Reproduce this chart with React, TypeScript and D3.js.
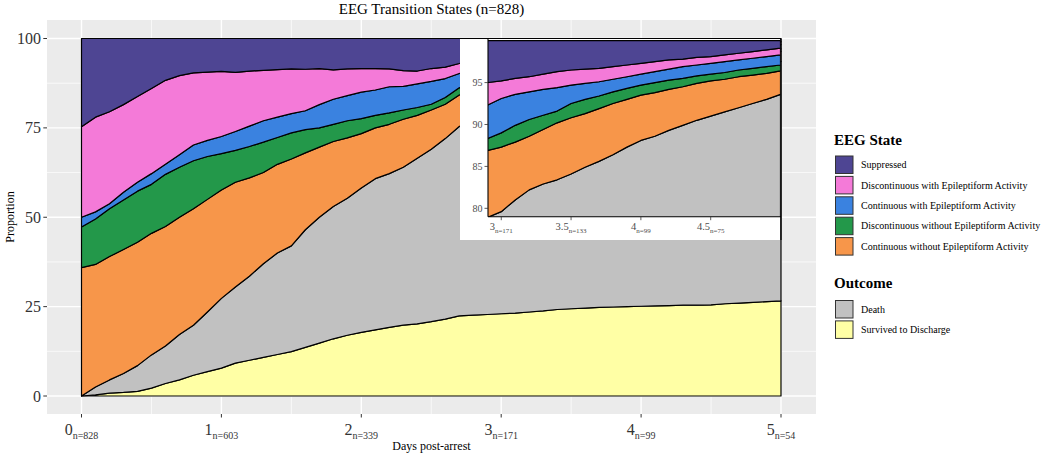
import React from "react";
import * as d3 from "d3";

// ---- data (percent of patients in each state) ----
const days = [0, 0.1, 0.2, 0.3, 0.4, 0.5, 0.6, 0.7, 0.8, 0.9, 1.0, 1.1, 1.2, 1.3, 1.4, 1.5, 1.6, 1.7, 1.8, 1.9, 2.0, 2.1, 2.2, 2.3, 2.4, 2.5, 2.6, 2.7, 2.8, 2.9, 3.0, 3.1, 3.2, 3.3, 3.4, 3.5, 3.6, 3.7, 3.8, 3.9, 4.0, 4.1, 4.2, 4.3, 4.4, 4.5, 4.6, 4.7, 4.8, 4.9, 5.0];

const survived = [0, 0.3, 0.8, 1.0, 1.3, 2.2, 3.5, 4.5, 5.8, 6.8, 7.8, 9.2, 10.0, 10.8, 11.6, 12.4, 13.6, 14.8, 16.0, 17.0, 17.8, 18.5, 19.2, 19.8, 20.2, 20.8, 21.5, 22.4, 22.6, 22.8, 23.0, 23.2, 23.5, 23.8, 24.2, 24.4, 24.6, 24.8, 24.9, 25.0, 25.1, 25.2, 25.3, 25.4, 25.4, 25.5, 25.8, 26.0, 26.2, 26.4, 26.6];
const death = [0, 2.2, 3.7, 5.3, 7.2, 9.3, 10.5, 12.7, 14.0, 16.7, 19.5, 21.3, 23.5, 26.2, 28.4, 29.6, 32.9, 35.2, 37.0, 38.3, 40.4, 42.3, 43.0, 44.2, 46.3, 48.2, 50.5, 53.0, 54.9, 56.1, 56.6, 57.8, 58.7, 59.1, 59.2, 59.7, 60.3, 60.8, 61.5, 62.3, 63.0, 63.4, 64.0, 64.5, 65.1, 65.5, 65.7, 66.0, 66.3, 66.6, 67.0];
const contNoEpi = [35.9, 34.3, 34.5, 34.7, 34.5, 34.0, 33.4, 32.8, 32.6, 31.5, 30.3, 29.3, 27.5, 25.5, 24.8, 24.3, 21.5, 19.6, 18.2, 16.9, 15.2, 14.2, 13.8, 13.4, 12.0, 11.0, 9.6, 8.8, 8.1, 8.0, 7.7, 6.9, 6.4, 6.5, 6.8, 6.7, 6.4, 6.3, 6.1, 5.7, 5.4, 5.2, 4.9, 4.6, 4.4, 4.2, 3.9, 3.7, 3.4, 3.1, 2.8];
const discNoEpi = [11.4, 12.7, 13.4, 13.8, 14.3, 13.7, 14.6, 14.0, 13.4, 12.0, 10.2, 8.9, 8.8, 8.5, 7.5, 7.3, 6.5, 5.4, 4.8, 4.8, 4.2, 3.5, 3.2, 2.6, 2.2, 1.6, 1.9, 2.0, 1.9, 1.4, 1.7, 2.0, 2.0, 1.7, 1.4, 1.7, 1.7, 1.5, 1.4, 1.3, 1.2, 1.2, 1.1, 1.0, 0.9, 0.8, 0.8, 0.8, 0.8, 0.8, 0.7];
const contEpi = [2.7, 2.0, 1.4, 2.2, 2.5, 3.0, 2.8, 3.5, 4.4, 4.5, 4.8, 5.3, 5.7, 6.0, 5.7, 5.4, 5.3, 6.5, 7.0, 7.0, 7.4, 7.1, 7.3, 6.6, 6.6, 6.4, 5.3, 4.0, 4.0, 4.0, 4.1, 3.7, 3.3, 3.1, 2.8, 2.2, 1.9, 1.7, 1.5, 1.4, 1.3, 1.3, 1.3, 1.4, 1.3, 1.3, 1.3, 1.2, 1.2, 1.2, 1.2];
const discEpi = [25.3, 26.5, 25.7, 24.5, 24.0, 23.8, 23.5, 22.1, 20.2, 19.1, 18.2, 16.5, 15.4, 14.1, 13.3, 12.5, 11.6, 10.1, 8.2, 7.5, 6.6, 6.0, 5.0, 4.4, 3.6, 3.6, 3.2, 2.8, 2.7, 2.7, 2.1, 1.9, 1.8, 1.8, 1.9, 1.8, 1.7, 1.6, 1.5, 1.4, 1.3, 1.2, 1.1, 0.9, 0.9, 0.8, 0.8, 0.8, 0.8, 0.8, 0.8];
const suppressed = [24.7, 22.0, 20.5, 18.5, 16.2, 14.0, 11.7, 10.4, 9.6, 9.4, 9.2, 9.5, 9.1, 8.9, 8.7, 8.5, 8.6, 8.4, 8.8, 8.5, 8.4, 8.4, 8.5, 9.0, 9.1, 8.4, 8.0, 7.0, 5.8, 5.0, 4.8, 4.5, 4.3, 4.0, 3.7, 3.5, 3.4, 3.3, 3.1, 2.9, 2.7, 2.5, 2.3, 2.2, 2.0, 1.9, 1.7, 1.5, 1.3, 1.1, 0.9];

const xTicks = [0, 1, 2, 3, 4, 5];
const xTickN = ["828", "603", "339", "171", "99", "54"];
const xMinor = [0.5, 1.5, 2.5, 3.5, 4.5];
const yTicks = [0, 25, 50, 75, 100];
const yMinor = [12.5, 37.5, 62.5, 87.5];
const insetXTicks = [3, 3.5, 4, 4.5];
const insetXTickN = ["171", "133", "99", "75"];
const insetYTicks = [80, 85, 90, 95];

const seriesKeys = ["survived", "death", "contNoEpi", "discNoEpi", "contEpi", "discEpi", "suppressed"];
const seriesColors: Record<string, string> = {
  suppressed: "#4E4593",
  discEpi: "#F47AD8",
  contEpi: "#3A82E0",
  discNoEpi: "#23984A",
  contNoEpi: "#F7964A",
  death: "#C1C1C1",
  survived: "#FFFFA5",
};
const eegLegend = [
  { key: "suppressed", label: "Suppressed" },
  { key: "discEpi", label: "Discontinuous with Epileptiform Activity" },
  { key: "contEpi", label: "Continuous with Epileptiform Activity" },
  { key: "discNoEpi", label: "Discontinuous without Epileptiform Activity" },
  { key: "contNoEpi", label: "Continuous without Epileptiform Activity" },
];
const outcomeLegend = [
  { key: "death", label: "Death" },
  { key: "survived", label: "Survived to Discharge" },
];

const FONT = "'Liberation Serif', 'Times New Roman', serif";

export default function App() {
  const W = 1050, H = 453;
  const rows = days.map((d, i) => ({
    day: d,
    survived: survived[i],
    death: death[i],
    contNoEpi: contNoEpi[i],
    discNoEpi: discNoEpi[i],
    contEpi: contEpi[i],
    discEpi: discEpi[i],
    suppressed: suppressed[i],
  }));
  const stacked = d3.stack<any>().keys(seriesKeys)(rows);

  // main panel
  const panel = { x0: 47, x1: 816, y0: 20, y1: 414 };
  const x = d3.scaleLinear().domain([0, 5]).range([81.5, 781]);
  const y = d3.scaleLinear().domain([0, 100]).range([396, 38.5]);
  const area = d3.area<any>().x((d) => x(d.data.day)).y0((d) => y(d[0])).y1((d) => y(d[1]));

  // inset
  const ib = { x0: 460, x1: 780, y0: 38.5, y1: 240 };
  const ix = d3.scaleLinear().domain([2.905, 5]).range([488, 780.5]);
  const iy = d3.scaleLinear().domain([79, 100.2]).range([216.7, 39]);
  const iarea = d3.area<any>().x((d) => ix(d.data.day)).y0((d) => iy(d[0])).y1((d) => iy(d[1]));

  const keyStep = 20.4;
  return (
    <svg width={W} height={H} style={{ position: "absolute", left: 0, top: 0, background: "#fff" }} fontFamily={FONT}>
      <defs>
        <clipPath id="insetClip">
          <rect x={488} y={39} width={292.5} height={177.7} />
        </clipPath>
      </defs>
      {/* title */}
      <text x={(panel.x0 + panel.x1) / 2} y={13.5} textAnchor="middle" fontSize={15} fill="#000">
        EEG Transition States (n=828)
      </text>
      {/* panel background */}
      <rect x={panel.x0} y={panel.y0} width={panel.x1 - panel.x0} height={panel.y1 - panel.y0} fill="#EBEBEB" />
      {xMinor.map((v) => (
        <line key={"xm" + v} x1={x(v)} x2={x(v)} y1={panel.y0} y2={panel.y1} stroke="#fff" strokeWidth={0.7} />
      ))}
      {yMinor.map((v) => (
        <line key={"ym" + v} x1={panel.x0} x2={panel.x1} y1={y(v)} y2={y(v)} stroke="#fff" strokeWidth={0.7} />
      ))}
      {xTicks.map((v) => (
        <line key={"xM" + v} x1={x(v)} x2={x(v)} y1={panel.y0} y2={panel.y1} stroke="#fff" strokeWidth={1.4} />
      ))}
      {yTicks.map((v) => (
        <line key={"yM" + v} x1={panel.x0} x2={panel.x1} y1={y(v)} y2={y(v)} stroke="#fff" strokeWidth={1.4} />
      ))}
      {/* stacked areas */}
      {stacked.map((s) => (
        <path key={s.key} d={area(s) || ""} fill={seriesColors[s.key]} stroke="#000" strokeWidth={1.2} strokeLinejoin="round" />
      ))}
      {/* axes ticks + labels */}
      {yTicks.map((v) => (
        <g key={"yt" + v}>
          <line x1={43.3} x2={panel.x0} y1={y(v)} y2={y(v)} stroke="#333" strokeWidth={1} />
          <text x={41} y={y(v)} dy="0.35em" textAnchor="end" fontSize={16} fill="#333">{v}</text>
        </g>
      ))}
      {xTicks.map((v, i) => (
        <g key={"xt" + v}>
          <line x1={x(v)} x2={x(v)} y1={panel.y1} y2={panel.y1 + 3.5} stroke="#333" strokeWidth={1} />
          <text x={x(v)} y={435} textAnchor="middle" fill="#333">
            <tspan fontSize={16}>{v}</tspan>
            <tspan fontSize={10} dy={3.5}>{"n=" + xTickN[i]}</tspan>
          </text>
        </g>
      ))}
      <text x={(panel.x0 + panel.x1) / 2} y={450} textAnchor="middle" fontSize={12} fill="#000">Days post-arrest</text>
      <text transform={`translate(13.5,${(panel.y0 + panel.y1) / 2}) rotate(-90)`} textAnchor="middle" fontSize={12} fill="#000">Proportion</text>

      {/* inset */}
      <rect x={ib.x0} y={ib.y0} width={ib.x1 - ib.x0} height={ib.y1 - ib.y0} fill="#fff" />
      <g clipPath="url(#insetClip)">
        {stacked.map((s) => (
          <path key={"i" + s.key} d={iarea(s) || ""} fill={seriesColors[s.key]} stroke="#000" strokeWidth={1.2} strokeLinejoin="round" />
        ))}
      </g>
      <line x1={488} x2={488} y1={39} y2={216.7} stroke="#000" strokeWidth={1.1} />
      <line x1={488} x2={781} y1={216.7} y2={216.7} stroke="#000" strokeWidth={1.1} />
      <line x1={781} x2={781} y1={38.5} y2={240} stroke="#000" strokeWidth={1.1} />
      <line x1={460} x2={781} y1={38.5} y2={38.5} stroke="#000" strokeWidth={1.1} />
      {insetYTicks.map((v) => (
        <g key={"iyt" + v}>
          <line x1={484.5} x2={488} y1={iy(v)} y2={iy(v)} stroke="#333" strokeWidth={0.8} />
          <text x={482.5} y={iy(v)} dy="0.35em" textAnchor="end" fontSize={10} fill="#4D4D4D">{v}</text>
        </g>
      ))}
      {insetXTicks.map((v, i) => (
        <g key={"ixt" + v}>
          <line x1={ix(v)} x2={ix(v)} y1={216.7} y2={220.2} stroke="#333" strokeWidth={0.8} />
          <text x={ix(v)} y={230} textAnchor="middle" fill="#4D4D4D">
            <tspan fontSize={10.5}>{v}</tspan>
            <tspan fontSize={7} dy={2.5}>{"n=" + insetXTickN[i]}</tspan>
          </text>
        </g>
      ))}

      {/* legend */}
      <text x={834} y={144.5} fontSize={15} fontWeight="bold" fill="#000">EEG State</text>
      {eegLegend.map((it, i) => (
        <g key={it.key}>
          <rect x={835.5} y={156 + i * keyStep} width={17.5} height={17.5} fill={seriesColors[it.key]} stroke="#333" strokeWidth={1} />
          <text x={861} y={156 + i * keyStep + 8.75} dy="0.35em" fontSize={10} fill="#000">{it.label}</text>
        </g>
      ))}
      <text x={834} y={288} fontSize={15} fontWeight="bold" fill="#000">Outcome</text>
      {outcomeLegend.map((it, i) => (
        <g key={it.key}>
          <rect x={835.5} y={300.5 + i * keyStep} width={17.5} height={17.5} fill={seriesColors[it.key]} stroke="#333" strokeWidth={1} />
          <text x={861} y={300.5 + i * keyStep + 8.75} dy="0.35em" fontSize={10} fill="#000">{it.label}</text>
        </g>
      ))}
    </svg>
  );
}
